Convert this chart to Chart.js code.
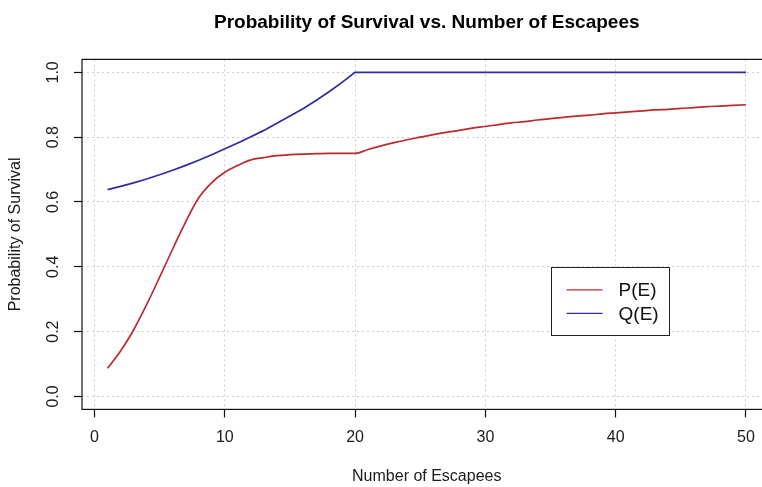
<!DOCTYPE html>
<html>
<head>
<meta charset="utf-8">
<script src="https://cdn.jsdelivr.net/npm/chart.js"></script>
<style>
    html, body {
        margin: 0;
        padding: 0;
        background: #fff;
        overflow: hidden;
    }
    #wrap {
        width: 800px; /* plot box runs past the right edge of the window, like the original */
        height: 487px;
    }
</style>
</head>
<body>
<div id="wrap"><canvas id="chart" width="800" height="487"></canvas></div>
<script>
// Data
const escapees = [1, 2, 3, 4, 5, 6, 7, 8, 9, 10,
    11, 12, 13, 14, 15, 16, 17, 18, 19, 20,
    21, 22, 23, 24, 25, 26, 27, 28, 29, 30,
    31, 32, 33, 34, 35, 36, 37, 38, 39, 40,
    41, 42, 43, 44, 45, 46, 47, 48, 49, 50];

const pE = [0.087, 0.140, 0.205, 0.283, 0.368, 0.455, 0.539, 0.613, 0.660, 0.692,
    0.713, 0.730, 0.737, 0.743, 0.746, 0.748, 0.749, 0.750, 0.750, 0.750,
    0.762, 0.773, 0.783, 0.792, 0.800, 0.808, 0.815, 0.821, 0.828, 0.833,
    0.839, 0.844, 0.848, 0.853, 0.857, 0.861, 0.865, 0.868, 0.872, 0.875,
    0.878, 0.881, 0.884, 0.886, 0.889, 0.891, 0.894, 0.896, 0.898, 0.900];

const qE = [0.638, 0.648, 0.659, 0.671, 0.684, 0.698, 0.713, 0.729, 0.746, 0.764,
    0.782, 0.801, 0.821, 0.843, 0.865, 0.888, 0.913, 0.940, 0.969, 1.000,
    1.000, 1.000, 1.000, 1.000, 1.000, 1.000, 1.000, 1.000, 1.000, 1.000,
    1.000, 1.000, 1.000, 1.000, 1.000, 1.000, 1.000, 1.000, 1.000, 1.000,
    1.000, 1.000, 1.000, 1.000, 1.000, 1.000, 1.000, 1.000, 1.000, 1.000];

const xTicks = [0, 10, 20, 30, 40, 50];
const yTicks = [0, 0.2, 0.4, 0.6, 0.8, 1.0];
const yTickLabels = ['0.0', '0.2', '0.4', '0.6', '0.8', '1.0'];

const seriesLabels = ['P(E)', 'Q(E)'];
const seriesColors = ['#bb2a2e', '#2c2ca2'];

const titleText = 'Probability of Survival vs. Number of Escapees';
const xTitle = 'Number of Escapees';
const yTitle = 'Probability of Survival';

const FONT = '"Liberation Sans", Arial, sans-serif';

// legend's top-left corner in data units
const legendAt = { x: 35, y: 0.4 };

// Draws the R-style bits Chart.js has no option for: box, rotated y labels, title, legend
const rDecor = {
    id: 'rDecor',
    afterDraw(chart) {
        const ctx = chart.ctx;
        const area = chart.chartArea;
        const xs = chart.scales.x;
        const ys = chart.scales.y;

        ctx.save();

        // box round the plot region
        ctx.strokeStyle = '#111';
        ctx.lineWidth = 1.2;
        ctx.strokeRect(area.left, area.top, area.right - area.left, area.bottom - area.top);

        // y tick labels, rotated like R's las = 0
        ctx.fillStyle = '#1a1a1a';
        ctx.font = '16px ' + FONT;
        ctx.textAlign = 'center';
        ctx.textBaseline = 'middle';
        yTicks.forEach((v, i) => {
            ctx.save();
            ctx.translate(54, ys.getPixelForValue(v));
            ctx.rotate(-Math.PI / 2);
            ctx.fillText(yTickLabels[i], 0, 0);
            ctx.restore();
        });

        // main title, centred over the plot region
        ctx.font = 'bold 19px ' + FONT;
        ctx.fillStyle = '#000';
        ctx.fillText(titleText, (area.left + area.right) / 2, 23);

        // legend
        const lx = xs.getPixelForValue(legendAt.x);
        const ly = ys.getPixelForValue(legendAt.y);
        const boxW = 118;
        const boxH = 68;
        ctx.fillStyle = '#fff';
        ctx.fillRect(lx, ly, boxW, boxH);
        ctx.strokeStyle = '#222';
        ctx.lineWidth = 1;
        ctx.strokeRect(Math.round(lx) + 0.5, Math.round(ly) + 0.5, boxW, boxH);

        ctx.font = '19px ' + FONT;
        ctx.textAlign = 'left';
        chart.data.datasets.forEach((ds, i) => {
            const rowY = ly + 23 + i * 23.5;
            ctx.strokeStyle = ds.borderColor;
            ctx.lineWidth = 1.2;
            ctx.beginPath();
            ctx.moveTo(lx + 16, rowY);
            ctx.lineTo(lx + 52, rowY);
            ctx.stroke();
            ctx.fillStyle = '#111';
            ctx.fillText(ds.label, lx + 68, rowY + 1);
        });

        ctx.restore();
    }
};

const gridStyle = {
    color: '#cccccc',
    lineWidth: 1,
    tickColor: '#111',
    tickWidth: 1.2,
    tickLength: 8,
    tickBorderDash: []
};

new Chart(document.getElementById('chart').getContext('2d'), {
    type: 'line',
    data: {
        datasets: [
            {
                label: seriesLabels[0],
                data: escapees.map((e, i) => ({ x: e, y: pE[i] })),
                borderColor: seriesColors[0],
                borderWidth: 1.7,
                pointRadius: 0,
                cubicInterpolationMode: 'monotone'
            },
            {
                label: seriesLabels[1],
                data: escapees.map((e, i) => ({ x: e, y: qE[i] })),
                borderColor: seriesColors[1],
                borderWidth: 1.7,
                pointRadius: 0,
                tension: 0
            }
        ]
    },
    options: {
        responsive: false,
        animation: false,
        events: [],
        layout: {
            padding: { left: 0, top: 59.4, right: 28.5, bottom: 0 }
        },
        plugins: {
            legend: { display: false },
            title: { display: false },
            tooltip: { enabled: false }
        },
        scales: {
            x: {
                type: 'linear',
                min: -0.96,
                max: 51.96,
                afterBuildTicks: s => { s.ticks = xTicks.map(v => ({ value: v })); },
                afterFit: s => { s.height = 77.6; },
                grid: gridStyle,
                border: { display: false, dash: [2, 3] },
                ticks: {
                    color: '#1a1a1a',
                    font: { family: FONT, size: 16 },
                    padding: 11,
                    maxRotation: 0,
                    autoSkip: false,
                    callback: v => String(v)
                },
                title: {
                    display: true,
                    text: xTitle,
                    color: '#1a1a1a',
                    font: { family: FONT, size: 16 },
                    padding: { top: 0, bottom: 1 }
                }
            },
            y: {
                type: 'linear',
                min: -0.04,
                max: 1.04,
                afterBuildTicks: s => { s.ticks = yTicks.map(v => ({ value: v })); },
                afterFit: s => { s.width = 82; },
                grid: gridStyle,
                border: { display: false, dash: [2, 3] },
                ticks: {
                    display: false
                },
                title: {
                    display: true,
                    text: yTitle,
                    color: '#1a1a1a',
                    font: { family: FONT, size: 16 },
                    padding: { top: 6, bottom: 0 }
                }
            }
        }
    },
    plugins: [rDecor]
});
</script>
</body>
</html>
